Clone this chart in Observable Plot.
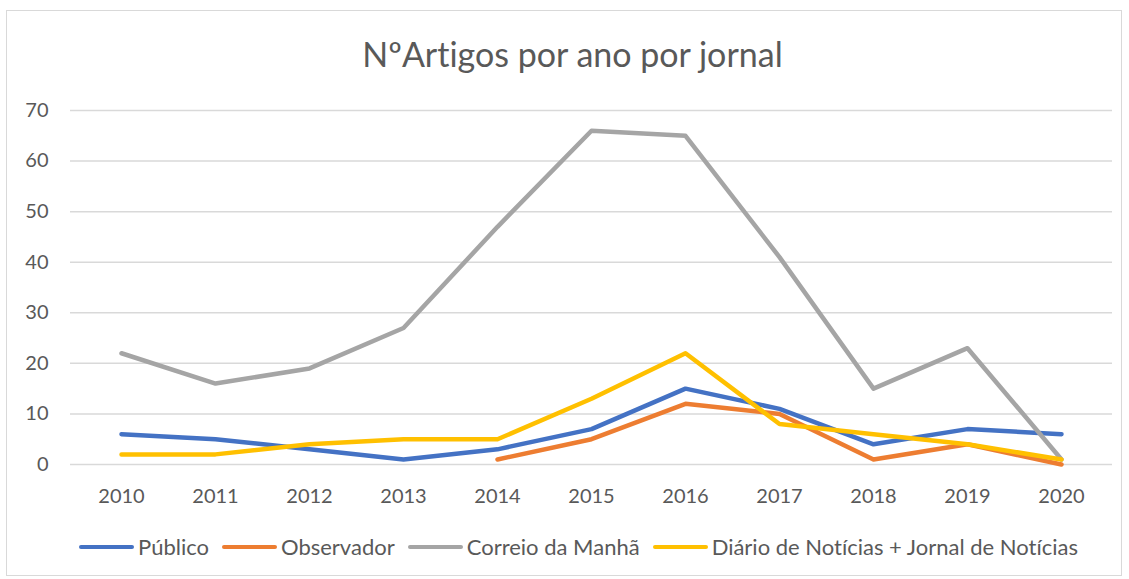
<!DOCTYPE html>
<html>
<head>
<meta charset="utf-8">
<script src="https://cdn.jsdelivr.net/npm/d3@7"></script>
<script src="https://cdn.jsdelivr.net/npm/@observablehq/plot@0.6"></script>
<style>
  html, body { margin: 0; padding: 0; background: #fff; }
  #wrap { position: relative; width: 1129px; height: 579px; overflow: hidden; font-family: Lato, "Open Sans", sans-serif; font-variant-ligatures: none; }
  #frame { position: absolute; left: 6px; top: 10px; width: 1116px; height: 566px; border: 1px solid #D9D9D9; box-sizing: border-box; }
  #title { position: absolute; left: 0; width: 1129px; top: 37px; line-height: 34px; text-align: center; font-size: 34px; color: #595959; padding-left: 16px; box-sizing: border-box; font-variant-ligatures: none; }
  #chart { position: absolute; left: 0; top: 90px; }
  #legend { position: absolute; left: 0; top: 536px; width: 1129px; display: flex; justify-content: center; font-size: 22px; line-height: 22px; color: #595959; padding-left: 28px; box-sizing: border-box; font-variant-ligatures: none; }
  .item { display: flex; align-items: center; margin-right: 13px; white-space: nowrap; }
  .item:last-child { margin-right: 0; }
  .sw { width: 55px; height: 4.5px; border-radius: 3px; margin-right: 4px; }
</style>
</head>
<body>
<div id="wrap">
  <div id="frame"></div>
  <div id="title">NºArtigos por ano por jornal</div>
  <div id="chart"></div>
  <div id="legend"></div>
</div>
<script>
const years = ["2010","2011","2012","2013","2014","2015","2016","2017","2018","2019","2020"];
const seriesNames = ["Público", "Observador", "Correio da Manhã", "Diário de Notícias + Jornal de Notícias"];
const seriesColors = ["#4472C4", "#ED7D31", "#A5A5A5", "#FFC000"];
const publico    = [6, 5, 3, 1, 3, 7, 15, 11, 4, 7, 6];
const observador = [null, null, null, null, 1, 5, 12, 10, 1, 4, 0];
const correio    = [22, 16, 19, 27, 47, 66, 65, 41, 15, 23, 1];
const dnjn       = [2, 2, 4, 5, 5, 13, 22, 8, 6, 4, 1];
const yTicks = [0, 10, 20, 30, 40, 50, 60, 70];

const allValues = [publico, observador, correio, dnjn];
const data = [];
seriesNames.forEach((name, i) => {
  years.forEach((yr, j) => {
    data.push({series: name, year: yr, value: allValues[i][j]});
  });
});

const chart = Plot.plot({
  width: 1129,
  height: 430,
  marginTop: 20,
  marginBottom: 56,
  marginLeft: 70,
  marginRight: 17,
  style: {fontFamily: "Lato, 'Open Sans', sans-serif", fontSize: "20px", color: "#595959", background: "transparent"},
  x: {type: "point", domain: years, padding: 0.5, label: null},
  y: {domain: [0, 70], label: null},
  color: {domain: seriesNames, range: seriesColors},
  marks: [
    Plot.gridY(yTicks, {stroke: "#D9D9D9", strokeOpacity: 1, strokeWidth: 1.5}),
    Plot.axisX({tickSize: 0, tickPadding: 24, fill: "#595959"}),
    Plot.axisY({ticks: yTicks, tickSize: 0, tickPadding: 22, fill: "#595959"}),
    Plot.line(data, {x: "year", y: "value", z: "series", stroke: "series", strokeWidth: 4.5, strokeLinecap: "round", strokeLinejoin: "round", defined: d => d.value != null})
  ]
});
document.getElementById("chart").appendChild(chart);

const legend = document.getElementById("legend");
seriesNames.forEach((name, i) => {
  const item = document.createElement("div");
  item.className = "item";
  const sw = document.createElement("div");
  sw.className = "sw";
  sw.style.background = seriesColors[i];
  const t = document.createElement("span");
  t.textContent = name;
  item.appendChild(sw);
  item.appendChild(t);
  legend.appendChild(item);
});
</script>
</body>
</html>
